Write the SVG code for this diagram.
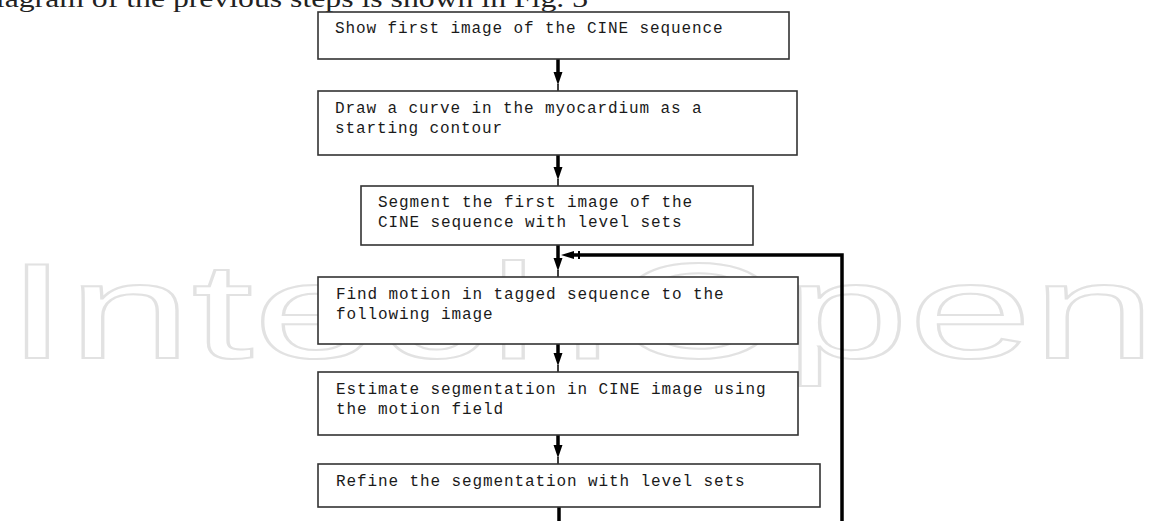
<svg xmlns="http://www.w3.org/2000/svg" width="1151" height="521" viewBox="0 0 1151 521">
<style>
.bg{fill:#ffffff}
.wm{font-family:"Liberation Sans",Arial,sans-serif;font-size:135px;fill:none;stroke:#e2e2e2;stroke-width:2}
.cap{font-family:"Liberation Serif","Times New Roman",serif;font-size:26px;fill:#222222}
.box{fill:#ffffff;stroke:#333333;stroke-width:1.6}
.t{font-family:"Liberation Mono","Courier New",monospace;font-size:16px;letter-spacing:0.9px;fill:#1a1a1a}
.shaft{stroke:#000000;stroke-width:3.5;fill:none}
.thin{stroke:#000000;stroke-width:1.5;fill:none}
.fb{stroke:#000000;stroke-width:3.5;fill:none}
</style>
<defs>
<polygon id="ah" points="-4.5,-13 4.5,-13 0,0" fill="#000000"/>
</defs>
<rect class="bg" x="0" y="0" width="1151" height="521"/>
<text class="wm" x="6" y="358" textLength="1150" lengthAdjust="spacingAndGlyphs">IntechOpen</text>
<text class="cap" x="-20" y="7" textLength="608" lengthAdjust="spacingAndGlyphs">diagram of the previous steps is shown in Fig. 3</text>

<g id="connectors">
<line class="shaft" x1="558" y1="59" x2="558" y2="73"/>
<use href="#ah" transform="translate(558,85)"/>
<line class="thin" x1="558" y1="84" x2="558" y2="91"/>

<line class="shaft" x1="558" y1="155" x2="558" y2="168"/>
<use href="#ah" transform="translate(558,180)"/>
<line class="thin" x1="558" y1="179" x2="558" y2="186"/>

<line class="shaft" x1="558" y1="245" x2="558" y2="259"/>
<use href="#ah" transform="translate(558,271)"/>
<line class="thin" x1="558" y1="270" x2="558" y2="277"/>

<line class="shaft" x1="558" y1="344" x2="558" y2="354"/>
<use href="#ah" transform="translate(558,366)"/>
<line class="thin" x1="558" y1="365" x2="558" y2="372"/>

<line class="shaft" x1="558" y1="435" x2="558" y2="446"/>
<use href="#ah" transform="translate(558,458)"/>
<line class="thin" x1="558" y1="457" x2="558" y2="464"/>

<line class="shaft" x1="559" y1="507" x2="559" y2="521"/>

<path class="fb" d="M842,521 V255 H568"/>
<polygon points="561,255 574,251 574,259" fill="#000000"/>
<line stroke="#000000" stroke-width="2" x1="579" y1="251" x2="579" y2="259"/>
</g>

<g id="n1">
<rect class="box" x="318" y="12" width="471" height="47"/>
<text class="t" x="335" y="33">Show first image of the CINE sequence</text>
</g>
<g id="n2">
<rect class="box" x="318" y="91" width="479" height="64"/>
<text class="t" x="335" y="113">Draw a curve in the myocardium as a</text>
<text class="t" x="335" y="133">starting contour</text>
</g>
<g id="n3">
<rect class="box" x="361" y="186" width="392" height="59"/>
<text class="t" x="378" y="207">Segment the first image of the</text>
<text class="t" x="378" y="227">CINE sequence with level sets</text>
</g>
<g id="n4">
<rect class="box" x="318" y="277" width="480" height="67"/>
<text class="t" x="336" y="299">Find motion in tagged sequence to the</text>
<text class="t" x="336" y="319">following image</text>
</g>
<g id="n5">
<rect class="box" x="318" y="372" width="480" height="63"/>
<text class="t" x="336" y="394">Estimate segmentation in CINE image using</text>
<text class="t" x="336" y="414">the motion field</text>
</g>
<g id="n6">
<rect class="box" x="318" y="464" width="502" height="43"/>
<text class="t" x="336" y="486">Refine the segmentation with level sets</text>
</g>
</svg>
